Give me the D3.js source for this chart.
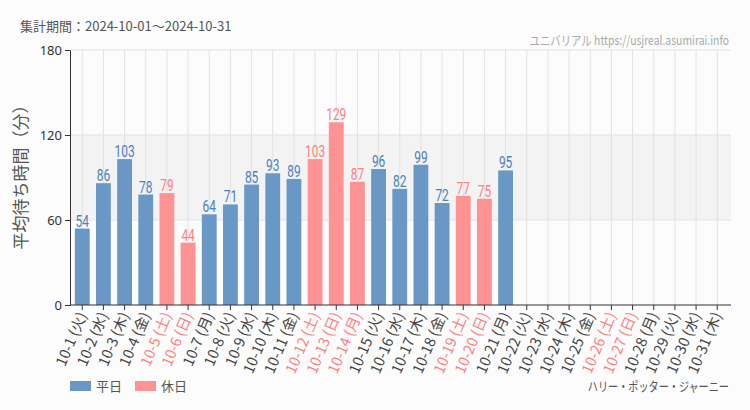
<!DOCTYPE html>
<html><head><meta charset="utf-8">
<script src="https://cdn.jsdelivr.net/npm/d3@7"></script>
<style>
body{margin:0;background:#fbfcfb;}
svg{display:block;font-family:"Noto Sans CJK JP","Noto Sans",sans-serif;}
</style></head><body>
<svg id="c" width="750" height="410"></svg>
<script>
const days = ["10-1","10-2","10-3","10-4","10-5","10-6","10-7","10-8","10-9","10-10","10-11","10-12","10-13","10-14","10-15","10-16","10-17","10-18","10-19","10-20","10-21","10-22","10-23","10-24","10-25","10-26","10-27","10-28","10-29","10-30","10-31"];
const weekdays = ["火","水","木","金","土","日","月","火","水","木","金","土","日","月","火","水","木","金","土","日","月","火","水","木","金","土","日","月","火","水","木"];
const holiday = [0,0,0,0,1,1,0,0,0,0,0,1,1,1,0,0,0,0,1,1,0,0,0,0,0,1,1,0,0,0,0];
const waits = [54,86,103,78,79,44,64,71,85,93,89,103,129,87,96,82,99,72,77,75,95,null,null,null,null,null,null,null,null,null,null];
const yTicks = [0,60,120,180];

const svg = d3.select("#c");
const blue = "#6a98c6", pink = "#ff9393";
const blueTxt = "#4a80bb", pinkTxt = "#ff7f7f";
const x = d3.scaleBand().domain(days).range([68.5,731]).padding(0.3);
const y = d3.scaleLinear().domain([0,180]).range([305,50]);

svg.append("rect").attr("x",70).attr("y",y(120)).attr("width",731-70).attr("height",y(60)-y(120)).attr("fill","#f2f3f2");
svg.append("g").selectAll("line").data(yTicks.filter(d=>d>0)).join("line")
  .attr("x1",70).attr("x2",731).attr("y1",d=>y(d)).attr("y2",d=>y(d)).attr("stroke","#e2e2e2");
svg.append("g").selectAll("line").data(days).join("line")
  .attr("x1",d=>x(d)+x.bandwidth()/2).attr("x2",d=>x(d)+x.bandwidth()/2)
  .attr("y1",y(180)).attr("y2",y(0)).attr("stroke","#e2e2e2");

const data = days.map((d,i)=>({d,w:weekdays[i],h:holiday[i],v:waits[i]}));
svg.append("g").selectAll("rect").data(data.filter(e=>e.v!=null)).join("rect")
  .attr("x",e=>x(e.d)).attr("width",x.bandwidth())
  .attr("y",e=>y(e.v)).attr("height",e=>y(0)-y(e.v))
  .attr("fill",e=>e.h?pink:blue);
svg.append("g").selectAll("text").data(data.filter(e=>e.v!=null)).join("text")
  .attr("transform",e=>`translate(${x(e.d)+x.bandwidth()/2},${y(e.v)-2}) scale(0.7,1)`)
  .attr("text-anchor","middle")
  .attr("font-family","Roboto,sans-serif")
  .attr("font-size",17).attr("fill",e=>e.h?pinkTxt:blueTxt)
  .text(e=>e.v);

const ya = svg.append("g").attr("transform","translate(70,0)")
  .call(d3.axisLeft(y).tickValues(yTicks).tickSize(5).tickPadding(3));
ya.select(".domain").attr("stroke","#333");
ya.selectAll(".tick line").attr("stroke","#333");
ya.selectAll("text").attr("font-size",13).attr("fill","#333").attr("font-family","'Noto Sans',sans-serif");

const xa = svg.append("g").attr("transform","translate(0,305)")
  .call(d3.axisBottom(x).tickSize(5).tickSizeOuter(0).tickFormat(""));
xa.select(".domain").attr("stroke","#333").attr("d","M70,0H731");
xa.selectAll(".tick line").attr("stroke","#333");
svg.append("g").selectAll("text").data(data).join("text")
  .attr("transform",e=>`translate(${x(e.d)+x.bandwidth()/2+5},315) rotate(-67)`)
  .attr("text-anchor","end").attr("font-size",14.5)
  .attr("fill",e=>e.h?pinkTxt:"#444")
  .text(e=>e.d+" ("+e.w+")");

svg.append("text").attr("transform","translate(27,173) rotate(-90)")
  .attr("text-anchor","middle").attr("font-size",17).attr("fill","#555")
  .text("平均待ち時間（分）");

svg.append("text").attr("x",20).attr("y",31).attr("font-size",13).attr("fill","#555")
  .text("集計期間：2024-10-01～2024-10-31");
svg.append("text").attr("transform","translate(729,45) scale(0.8,1)").attr("text-anchor","end").attr("font-size",13).attr("fill","#aaa")
  .text("ユニバリアル  https://usjreal.asumirai.info");

const legend = [["平日",blue,70],["休日",pink,135]];
legend.forEach(([t,c,lx])=>{
  svg.append("rect").attr("x",lx).attr("y",381).attr("width",21).attr("height",10).attr("fill",c);
  svg.append("text").attr("x",lx+26).attr("y",391).attr("font-size",13).attr("fill","#555").text(t);
});
svg.append("text").attr("transform","translate(729,391) scale(0.78,1)").attr("text-anchor","end").attr("font-size",13).attr("fill","#555")
  .text("ハリー・ポッター・ジャーニー");
</script></body></html>
